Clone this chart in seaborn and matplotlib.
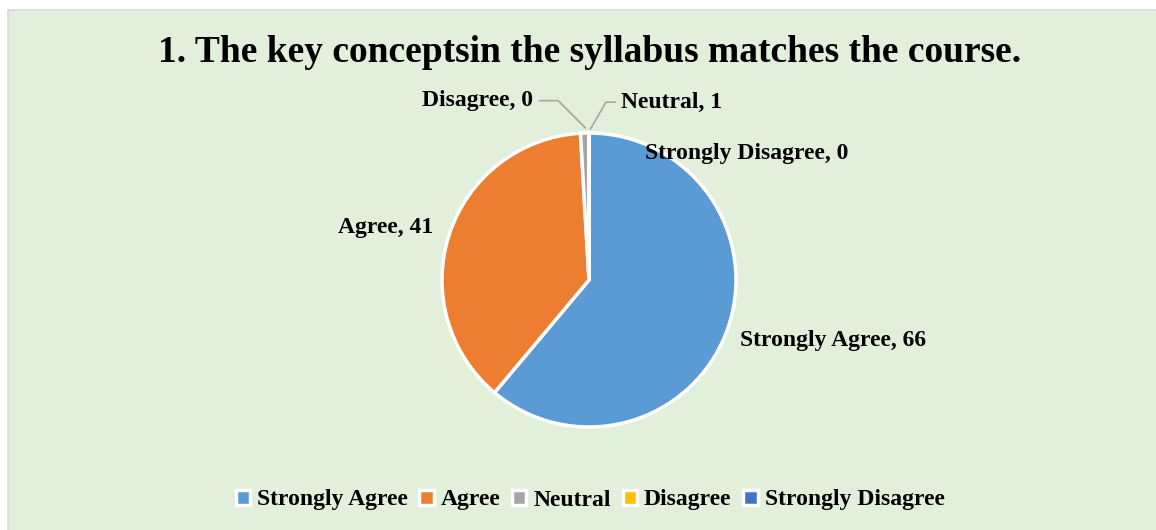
import matplotlib
matplotlib.use("Agg")
import matplotlib.pyplot as plt
from matplotlib.patches import Rectangle
import seaborn as sns

categories = ["Strongly Agree", "Agree", "Neutral", "Disagree", "Strongly Disagree"]
counts = [66, 41, 1, 0, 0]
palette = ["#5B9BD5", "#ED7D31", "#A5A5A5", "#FFC000", "#4472C4"]
title = "1. The key conceptsin the syllabus matches the course."

sns.set_style("white")
plt.rcParams['font.family'] = ['Liberation Serif', 'DejaVu Serif']
plt.rcParams['font.weight'] = 'bold'
plt.rcParams['text.color'] = 'black'

W, H = 1156, 530
fig = plt.figure(figsize=(W / 100, H / 100), dpi=100, facecolor="white")

# chart area background
fig.patches.append(Rectangle((8 / W, -0.01), 1.0, 1.01 - 10 / H, transform=fig.transFigure,
                             facecolor="#E2EFDA", edgecolor="#D9D9D9", linewidth=1.2, zorder=-5))

cx, cy, r = 589, 250, 147
ax = fig.add_axes([(cx - r) / W, (cy - r) / H, 2 * r / W, 2 * r / H])
ax.set_facecolor("none")

wedges, _ = ax.pie(counts, colors=sns.color_palette(palette), startangle=90, counterclock=False,
                   radius=1, wedgeprops=dict(edgecolor="white", linewidth=2.5))
ax.set_xlim(-1, 1)
ax.set_ylim(-1, 1)
ax.axis("off")

lbl = dict(fontsize=17, fontweight="bold", color="black")
ax.text(1.03, -0.41, f"{categories[0]}, {counts[0]}", ha="left", va="center", **lbl)
ax.text(-1.06, 0.36, f"{categories[1]}, {counts[1]}", ha="right", va="center", **lbl)
ax.text(0.38, 0.86, f"{categories[4]}, {counts[4]}", ha="left", va="center", **lbl)

line_kw = dict(color="#A6A6A6", lw=1.2)
ax.annotate(f"{categories[2]}, {counts[2]}", xy=(0.0, 1.01), xytext=(0.22, 1.21),
            ha="left", va="center", annotation_clip=False, **lbl,
            arrowprops=dict(arrowstyle="-", connectionstyle="angle,angleA=0,angleB=60,rad=0", **line_kw))
ax.annotate(f"{categories[3]}, {counts[3]}", xy=(-0.01, 1.02), xytext=(-0.38, 1.22),
            ha="right", va="center", annotation_clip=False, **lbl,
            arrowprops=dict(arrowstyle="-", connectionstyle="angle,angleA=0,angleB=-45,rad=0", **line_kw))

fig.text(590 / W, 1 - 53 / H, title, ha="center", va="center", fontsize=27, fontweight="bold")

fig.legend(wedges, categories, loc="center", bbox_to_anchor=(590 / W, 1 - 500 / H), ncol=5,
           frameon=False, fontsize=17, handlelength=0.6, handleheight=0.6, handletextpad=0.3,
           columnspacing=0.5)

fig.savefig("out.png", dpi=100, facecolor="white")
